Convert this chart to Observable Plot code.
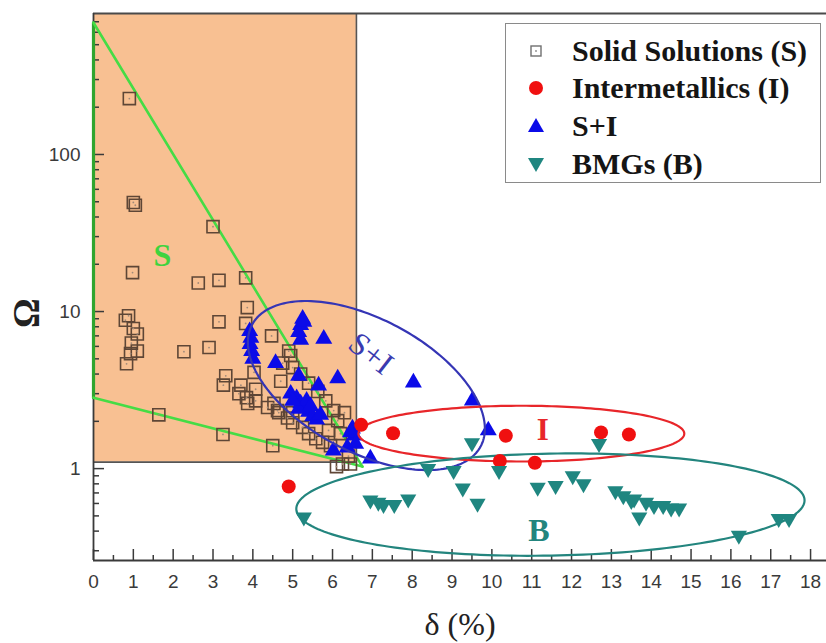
<!DOCTYPE html>
<html>
<head>
<meta charset="utf-8">
<script src="https://cdn.jsdelivr.net/npm/d3@7"></script>
<script src="https://cdn.jsdelivr.net/npm/@observablehq/plot@0.6"></script>
<style>
  body { margin: 0; background: #fff; }
  #wrap { position: relative; width: 826px; height: 643px; overflow: hidden; }
  #legend { position: absolute; left: 505px; top: 23px; width: 316px; height: 160px;
    border: 1.5px solid #8a8a8a; background: #fff; box-sizing: border-box;
    font-family: "Liberation Serif", "Times New Roman", serif; font-weight: bold; font-size: 30px; color: #151515; }
  .row { position: absolute; left: 0; height: 36px; width: 100%; }
  .row svg { position: absolute; left: 18px; top: 6px; }
  .row span { position: absolute; left: 66px; top: 0; line-height: 36px; white-space: nowrap; }
</style>
</head>
<body>
<div id="wrap"></div>
<script>
// ---------------- data ----------------
const solidDelta = [0.9,1.0,1.05,3.0,0.98,2.63,3.15,3.82,3.86,0.88,0.8,1.0,1.1,0.95,1.1,0.93,0.83,3.15,3.82,2.27,2.9,1.64,3.25,4.5,4.47,3.32,3.26,3.7,4.03,3.84,4.07,4.07,4.7,4.65,4.87,5.0,5.25,5.4,5.58,5.75,5.95,6.2,6.13,6.3,5.9,6.25,6.4,4.75,4.95,5.0,5.2,5.4,5.63,5.83,6.03,3.65,3.87,4.37,4.62,4.53,5.0,4.9,6.1,6.45];
const solidOmega = [227,49.5,47.5,34.7,17.7,15.2,15.8,16.4,10.6,9.4,8.8,7.8,7.2,6.3,5.6,5.4,4.65,8.6,8.4,5.55,5.9,2.2,1.65,1.4,7.0,3.9,3.4,3.4,4.1,2.83,3.2,2.7,3.6,2.27,2.1,1.96,1.83,1.67,1.55,1.47,1.4,1.67,2.02,2.27,1.75,1.07,1.2,4.7,5.25,4.4,4.0,3.5,3.1,2.7,2.34,3.0,2.6,2.45,2.34,2.6,2.27,5.6,1.03,1.07];

const imDelta = [4.9,6.72,7.52,10.35,12.74,13.44,10.2,11.08];
const imOmega = [0.77,1.9,1.68,1.62,1.70,1.65,1.12,1.09];

const siDelta = [3.92,3.95,3.93,3.97,4.0,5.25,5.2,5.15,5.2,5.28,5.78,4.57,5.15,6.13,8.03,9.51,9.91,4.95,5.1,5.2,5.3,5.4,5.5,5.6,5.15,5.35,5.45,5.0,5.7,5.65,6.5,6.55,6.45,6.02,6.37,6.95,6.58];
const siOmega = [7.5,6.8,6.2,5.6,5.0,9.0,8.2,7.4,6.6,8.6,6.7,4.7,3.9,3.75,3.53,2.71,1.75,3.0,2.8,2.6,2.45,2.3,2.15,2.05,2.4,2.7,2.5,2.7,2.2,3.38,1.8,1.62,1.7,1.30,1.36,1.16,1.44];

const bmgDelta = [5.28,6.95,7.15,7.28,7.55,7.9,8.4,9.04,9.27,9.64,9.5,10.18,11.15,11.6,12.03,12.3,12.69,13.1,13.3,13.5,13.57,13.7,13.87,14.07,14.3,14.5,14.7,16.2,17.2,17.46];
const bmgOmega = [0.49,0.63,0.61,0.59,0.59,0.64,1.0,0.97,0.75,0.6,1.46,0.97,0.76,0.78,0.90,0.80,1.44,0.72,0.67,0.625,0.64,0.49,0.61,0.58,0.58,0.56,0.56,0.375,0.48,0.48];

// criterion region (δ ≤ 6.6 %, Ω ≥ 1.1)
const regionDelta = [0, 6.6];
const regionOmega = [1.1, 790];
// green boundary lines of region S
const upperDelta = [0, 6.75], upperOmega = [690, 1.03];
const lowerDelta = [0, 6.75], lowerOmega = [2.83, 1.03];
const edgeDelta = [0, 0],     edgeOmega = [2.83, 690];

// ellipses: centre (δ, Ω), semi-axes in δ units, tilt (deg)
const ellipseNames = ["S+I", "I", "B"];
const ellipseCx = [6.85, 10.74, 11.47];
const ellipseCy = [3.38, 1.67, 0.59];
const ellipseA = [3.25, 4.09, 6.38];
const ellipseB = [1.67, 0.70, 1.28];
const ellipseAngle = [-28, 0, 1];
const ellipseColors = ["#3535b5", "#e8262a", "#23857e"];

// region labels
const labelText = ["S", "S+I", "I", "B"];
const labelDelta = [1.73, 6.96, 11.28, 11.18];
const labelOmega = [22.7, 5.4, 1.75, 0.40];

// ticks
const xTicks = d3.range(0, 19);
const xMinor = d3.range(0.5, 18.5, 1);
const yTicks = [1, 10, 100];
const yMinor = [0.3,0.4,0.5,0.6,0.7,0.8,0.9,2,3,4,5,6,7,8,9,20,30,40,50,60,70,80,90,200,300,400,500,600,700];

// ---------------- layout ----------------
const W = 826, H = 643, mL = 93, mR = 0, mT = 13, mB = 83;
const X_DOMAIN = [0, 18.4], Y_DOMAIN = [0.26, 790];
const plotW = W - mL - mR, plotH = H - mT - mB;
const kx = plotW / (X_DOMAIN[1] - X_DOMAIN[0]);
const ky = plotH / (Math.log10(Y_DOMAIN[1]) - Math.log10(Y_DOMAIN[0]));
const sc = ky / kx;

const zip = (xs, ys) => xs.map((x, i) => ({x, y: ys[i]}));
const solid = zip(solidDelta, solidOmega);
const inter = zip(imDelta, imOmega);
const si = zip(siDelta, siOmega);
const bmg = zip(bmgDelta, bmgOmega);

function ellipsePoints(i) {
  const pts = [];
  const phi = ellipseAngle[i] * Math.PI / 180;
  const cv = Math.log10(ellipseCy[i]) * sc;
  const n = 200;
  for (let k = 0; k < n; k++) {
    const t = k / n * 2 * Math.PI;
    const u = ellipseCx[i] + ellipseA[i] * Math.cos(t) * Math.cos(phi) - ellipseB[i] * Math.sin(t) * Math.sin(phi);
    const v = cv + ellipseA[i] * Math.cos(t) * Math.sin(phi) + ellipseB[i] * Math.sin(t) * Math.cos(phi);
    pts.push({x: u, y: Math.pow(10, v / sc)});
  }
  return pts;
}

const GREEN = "#45dc45";
const AX = "#3a3a3a";
const serif = "Liberation Serif, Times New Roman, serif";

const labelStyles = [
  {fill: "#3fd33f", size: 32, weight: "bold", rotate: 0},
  {fill: "#3a3ab0", size: 32, weight: "normal", rotate: 38},
  {fill: "#e8262a", size: 31, weight: "bold", rotate: 0},
  {fill: "#23857e", size: 32, weight: "bold", rotate: 0}
];

const marks = [
  Plot.rect([{x1: regionDelta[0], x2: regionDelta[1], y1: regionOmega[0], y2: regionOmega[1]}],
    {x1: "x1", x2: "x2", y1: "y1", y2: "y2", fill: "#f8c092"}),
  Plot.ruleX([regionDelta[1]], {y1: regionOmega[0], y2: regionOmega[1], stroke: "#555", strokeWidth: 1.6}),
  Plot.ruleY([regionOmega[0]], {x1: regionDelta[0], x2: regionDelta[1], stroke: "#555", strokeWidth: 1.6}),
  // frame lines
  Plot.ruleY([Y_DOMAIN[1]], {stroke: "#4a4a4a", strokeWidth: 2}),
  Plot.ruleX([X_DOMAIN[0]], {stroke: AX, strokeWidth: 1.8}),
  Plot.ruleY([Y_DOMAIN[0]], {stroke: AX, strokeWidth: 1.8}),
  // ticks (inward)
  Plot.ruleX(xTicks, {stroke: AX, strokeWidth: 1.5, insetTop: plotH - 11}),
  Plot.ruleX(xMinor, {stroke: AX, strokeWidth: 1.5, insetTop: plotH - 5}),
  Plot.ruleY(yTicks, {stroke: AX, strokeWidth: 1.5, insetRight: plotW - 11}),
  Plot.ruleY(yMinor, {stroke: AX, strokeWidth: 1.5, insetRight: plotW - 6}),
  // green boundaries
  Plot.line(zip(edgeDelta, edgeOmega), {x: "x", y: "y", stroke: "#2fa52f", strokeWidth: 3.2}),
  Plot.line(zip(upperDelta, upperOmega), {x: "x", y: "y", stroke: GREEN, strokeWidth: 2.6}),
  Plot.line(zip(lowerDelta, lowerOmega), {x: "x", y: "y", stroke: GREEN, strokeWidth: 2.6}),
  // solid solutions
  Plot.dot(solid, {x: "x", y: "y", symbol: "square", r: 6.8, stroke: "#5e4636", strokeWidth: 1.6, fill: "none"}),
  Plot.dot(solid, {x: "x", y: "y", r: 0.9, fill: "#a08a7a"}),
  // S+I
  Plot.dot(si, {x: "x", y: "y", symbol: "triangle", r: 6.3, fill: "#0b0be8", stroke: "none"}),
  // ellipses
  ...ellipseNames.map((n, i) => Plot.line(ellipsePoints(i), {x: "x", y: "y", stroke: ellipseColors[i], strokeWidth: 2.2, curve: "linear-closed"})),
  // intermetallics
  Plot.dot(inter, {x: "x", y: "y", r: 7, fill: "#f01010", stroke: "none"}),
  // BMGs
  Plot.dot(bmg, {x: "x", y: "y", symbol: "triangle", rotate: 180, r: 6, fill: "#1f8680", stroke: "none"}),
  // region labels
  ...labelText.map((t, i) => Plot.text([t], {x: () => labelDelta[i], y: () => labelOmega[i], text: d => d,
     fill: labelStyles[i].fill, fontSize: labelStyles[i].size, fontWeight: labelStyles[i].weight,
     fontFamily: serif, rotate: labelStyles[i].rotate})),
  // axis labels
  Plot.text(["δ (%)"], {frameAnchor: "bottom", dy: 64, lineAnchor: "middle", text: d => d, fontSize: 32, fontFamily: serif, fill: "#222"}),
  Plot.text(["Ω"], {frameAnchor: "left", dx: -66, dy: 41, lineAnchor: "middle", rotate: -90, text: d => d, fontSize: 37, fontWeight: "bold", fontFamily: serif, fill: "#222"})
];

const chart = Plot.plot({
  width: W, height: H,
  marginLeft: mL, marginRight: mR, marginTop: mT, marginBottom: mB,
  style: {fontFamily: "Liberation Sans, Arial, sans-serif", fontSize: "19px", color: "#3a3a3a", background: "#fff", overflow: "visible"},
  x: {domain: X_DOMAIN, ticks: xTicks, tickSize: 0, tickPadding: 14, label: null, tickFormat: d => String(d)},
  y: {type: "log", domain: Y_DOMAIN, ticks: yTicks, tickSize: 0, tickPadding: 13, label: null, tickFormat: d => String(d)},
  marks
});

const wrap = document.getElementById("wrap");
wrap.appendChild(chart);

// legend
const legendItems = ["Solid Solutions (S)", "Intermetallics (I)", "S+I", "BMGs (B)"];
const legendSym = [
  '<svg width="24" height="24"><rect x="7" y="7" width="10" height="10" fill="none" stroke="#6f6f6f" stroke-width="1.4"/><circle cx="12" cy="12" r="0.9" fill="#888"/></svg>',
  '<svg width="24" height="24"><circle cx="12" cy="12" r="7" fill="#f01010"/></svg>',
  '<svg width="24" height="24"><path d="M12,4 L20,18 L4,18 Z" fill="#0b0be8"/></svg>',
  '<svg width="24" height="24"><path d="M4,6 L20,6 L12,20 Z" fill="#1f8680"/></svg>'
];
const legendRowCenters = [27, 64, 102, 140];
const legend = document.createElement("div");
legend.id = "legend";
legendItems.forEach((t, i) => {
  const row = document.createElement("div");
  row.className = "row";
  row.style.top = (legendRowCenters[i] - 18) + "px";
  row.innerHTML = legendSym[i] + "<span>" + t + "</span>";
  legend.appendChild(row);
});
wrap.appendChild(legend);
</script>
</body>
</html>
